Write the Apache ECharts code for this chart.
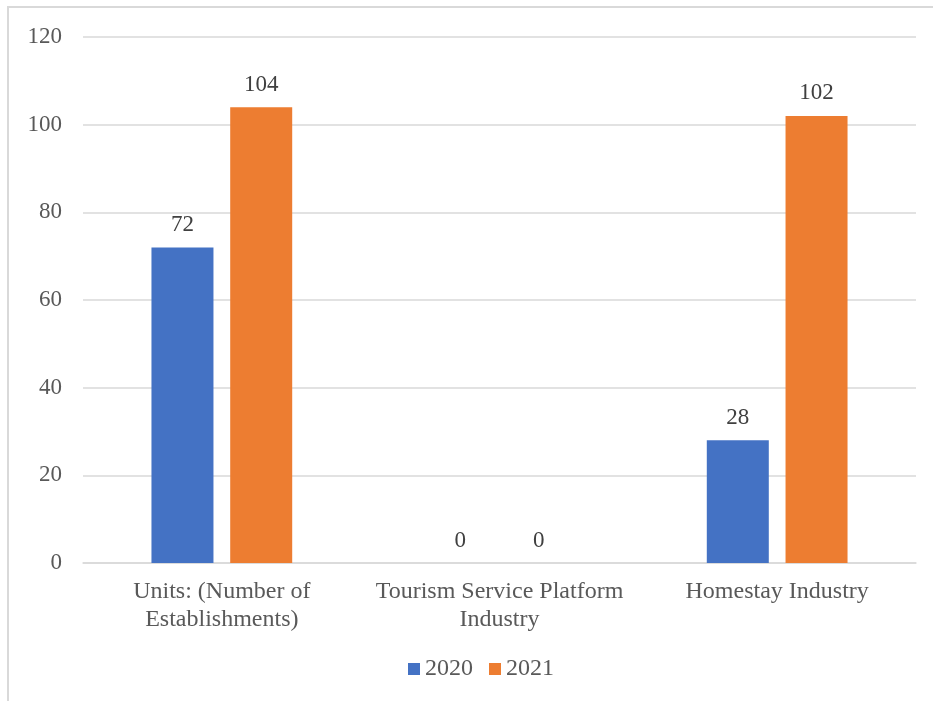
<!DOCTYPE html>
<html>
<head>
<meta charset="utf-8">
<script src="https://cdn.jsdelivr.net/npm/echarts@6/dist/echarts.min.js"></script>
<style>
  html, body { margin: 0; padding: 0; background: #ffffff; }
  #chart { width: 933px; height: 701px; }
</style>
</head>
<body>
<div id="chart"></div>
<script>
const categories = [
  'Units: (Number of\nEstablishments)',
  'Tourism Service Platform\nIndustry',
  'Homestay Industry'
];
const seriesNames = ['2020', '2021'];
const values2020 = [72, 0, 28];
const values2021 = [104, 0, 102];
const yTicks = { min: 0, max: 120, interval: 20 };

const textColor = '#595959';
const fontFamily = '"Liberation Serif", "Times New Roman", serif';

const chart = echarts.init(document.getElementById('chart'));

function barSeries(name, data, color) {
  return {
    name: name,
    type: 'bar',
    data: data,
    barWidth: 62,
    barGap: '27%',
    itemStyle: { color: color },
    label: {
      show: true,
      position: 'top',
      distance: 11,
      color: '#404040',
      fontFamily: fontFamily,
      fontSize: 23
    }
  };
}

chart.setOption({
  animation: false,
  backgroundColor: '#ffffff',
  graphic: [{
    type: 'rect',
    shape: { x: 8, y: 7, width: 940, height: 720 },
    style: { fill: 'none', stroke: '#d9d9d9', lineWidth: 2 },
    silent: true
  }],
  grid: { left: 83, right: 17, top: 37, bottom: 138 },
  legend: {
    data: seriesNames,
    top: 652,
    left: 403,
    itemWidth: 12,
    itemHeight: 12,
    itemGap: 16,
    icon: 'rect',
    textStyle: { color: textColor, fontFamily: fontFamily, fontSize: 24 }
  },
  xAxis: {
    type: 'category',
    data: categories,
    axisLine: { lineStyle: { color: '#d9d9d9', width: 1.5 } },
    axisTick: { show: false },
    axisLabel: {
      color: textColor,
      fontFamily: fontFamily,
      fontSize: 24,
      lineHeight: 28,
      margin: 15,
      interval: 0
    }
  },
  yAxis: {
    type: 'value',
    min: yTicks.min,
    max: yTicks.max,
    interval: yTicks.interval,
    axisLine: { show: false },
    axisTick: { show: false },
    splitLine: { lineStyle: { color: '#d9d9d9', width: 1.5 } },
    axisLabel: {
      color: textColor,
      fontFamily: fontFamily,
      fontSize: 23,
      margin: 21
    }
  },
  series: [
    barSeries(seriesNames[0], values2020, '#4472C4'),
    barSeries(seriesNames[1], values2021, '#ED7D31')
  ]
});
</script>
</body>
</html>
